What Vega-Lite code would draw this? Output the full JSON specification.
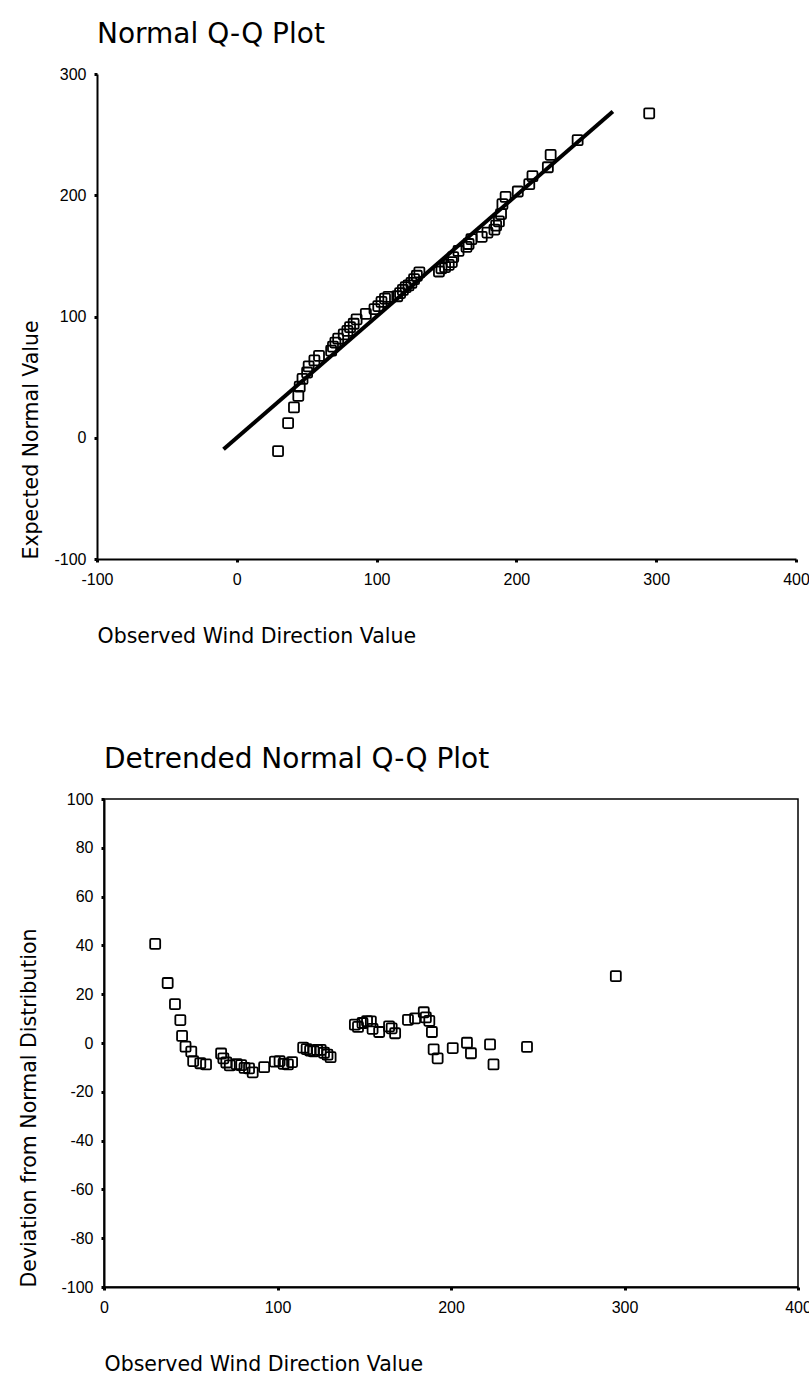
{
  "$schema": "https://vega.github.io/schema/vega-lite/v6.json",
  "background": "white",
  "padding": {"left": 19, "top": 21, "right": 0, "bottom": 0},
  "config": {
    "font": "DejaVu Sans",
    "view": {"stroke": "black", "strokeWidth": 1.5},
    "axis": {
      "grid": false,
      "domainColor": "black",
      "domainWidth": 2,
      "tickColor": "black",
      "tickSize": 3,
      "tickWidth": 3,
      "labelFont": "Liberation Sans",
      "labelFontSize": 16,
      "labelColor": "black",
      "labelFlush": false,
      "labelExpr": "replace(datum.label, '−', '-')",
      "titleFont": "DejaVu Sans",
      "titleFontWeight": "normal",
      "titleFontSize": 20.5,
      "titleColor": "black"
    },
    "title": {"anchor": "start", "frame": "group", "fontSize": 28, "fontWeight": "normal", "font": "DejaVu Sans", "color": "black"}
  },
  "datasets": {
    "qq": [
      {"obs": 29.5, "dev": 40.6, "exp": -11.1},
      {"obs": 36.7, "dev": 24.6, "exp": 12.1},
      {"obs": 40.9, "dev": 15.9, "exp": 25.0},
      {"obs": 44.0, "dev": 9.4, "exp": 34.6},
      {"obs": 45.0, "dev": 2.9, "exp": 42.1},
      {"obs": 47.0, "dev": -1.5, "exp": 48.5},
      {"obs": 50.3, "dev": -3.5, "exp": 53.8},
      {"obs": 51.4, "dev": -7.4, "exp": 58.8},
      {"obs": 55.5, "dev": -8.3, "exp": 63.8},
      {"obs": 58.8, "dev": -8.8, "exp": 67.6},
      {"obs": 67.5, "dev": -4.3, "exp": 71.8},
      {"obs": 68.8, "dev": -6.3, "exp": 75.1},
      {"obs": 70.5, "dev": -8.0, "exp": 78.5},
      {"obs": 72.5, "dev": -9.2, "exp": 81.7},
      {"obs": 76.5, "dev": -8.7, "exp": 85.2},
      {"obs": 79.1, "dev": -9.1, "exp": 88.2},
      {"obs": 81.0, "dev": -10.2, "exp": 91.2},
      {"obs": 83.6, "dev": -10.4, "exp": 94.0},
      {"obs": 85.7, "dev": -12.0, "exp": 97.7},
      {"obs": 92.3, "dev": -9.9, "exp": 102.2},
      {"obs": 98.5, "dev": -7.6, "exp": 106.1},
      {"obs": 101.2, "dev": -7.4, "exp": 108.6},
      {"obs": 103.5, "dev": -8.5, "exp": 112.0},
      {"obs": 106.0, "dev": -8.8, "exp": 114.8},
      {"obs": 108.4, "dev": -7.8, "exp": 116.2},
      {"obs": 114.8, "dev": -1.9, "exp": 116.7},
      {"obs": 116.8, "dev": -2.5, "exp": 119.3},
      {"obs": 118.8, "dev": -3.1, "exp": 121.9},
      {"obs": 120.8, "dev": -3.4, "exp": 124.2},
      {"obs": 122.8, "dev": -2.8, "exp": 125.6},
      {"obs": 124.9, "dev": -2.8, "exp": 127.7},
      {"obs": 126.8, "dev": -4.0, "exp": 130.8},
      {"obs": 128.8, "dev": -4.8, "exp": 133.6},
      {"obs": 130.6, "dev": -5.8, "exp": 136.4},
      {"obs": 144.6, "dev": 7.5, "exp": 137.1},
      {"obs": 146.4, "dev": 6.6, "exp": 139.8},
      {"obs": 149.0, "dev": 8.2, "exp": 140.8},
      {"obs": 151.6, "dev": 9.0, "exp": 142.6},
      {"obs": 153.8, "dev": 8.9, "exp": 144.9},
      {"obs": 154.8, "dev": 5.8, "exp": 149.0},
      {"obs": 158.6, "dev": 4.5, "exp": 154.1},
      {"obs": 164.3, "dev": 6.8, "exp": 157.5},
      {"obs": 165.8, "dev": 6.0, "exp": 159.8},
      {"obs": 167.8, "dev": 4.0, "exp": 163.8},
      {"obs": 175.2, "dev": 9.5, "exp": 165.7},
      {"obs": 179.3, "dev": 10.1, "exp": 169.2},
      {"obs": 184.3, "dev": 12.6, "exp": 171.7},
      {"obs": 185.5, "dev": 10.5, "exp": 175.0},
      {"obs": 187.5, "dev": 9.1, "exp": 178.4},
      {"obs": 189.0, "dev": 4.5, "exp": 184.5},
      {"obs": 190.0, "dev": -2.6, "exp": 192.6},
      {"obs": 192.3, "dev": -6.3, "exp": 198.6},
      {"obs": 201.0, "dev": -2.1, "exp": 203.1},
      {"obs": 209.2, "dev": 0.1, "exp": 209.1},
      {"obs": 211.5, "dev": -4.2, "exp": 215.7},
      {"obs": 222.5, "dev": -0.6, "exp": 223.1},
      {"obs": 224.5, "dev": -8.8, "exp": 233.3},
      {"obs": 243.8, "dev": -1.6, "exp": 245.4},
      {"obs": 295.0, "dev": 27.4, "exp": 267.6}
    ],
    "ref": [
      {"obs": -9.5, "exp": -9.5},
      {"obs": 269, "exp": 269}
    ]
  },
  "vconcat": [
    {
      "title": {"text": "Normal Q-Q Plot", "offset": 17, "dx": -7},
      "width": 692,
      "height": 485,
      "view": {"stroke": null},
      "layer": [
        {
          "mark": {"type": "rule", "color": "black", "strokeWidth": 1.5},
          "encoding": {
            "x": {"datum": -100, "type": "quantitative"},
            "x2": {"datum": 400},
            "y": {"datum": 300, "type": "quantitative"}
          }
        },
        {
          "mark": {"type": "rule", "color": "black", "strokeWidth": 1.5},
          "encoding": {
            "x": {"datum": 400, "type": "quantitative"},
            "y": {"datum": -100, "type": "quantitative"},
            "y2": {"datum": 300}
          }
        },
        {
          "data": {"name": "ref"},
          "mark": {"type": "line", "color": "black", "strokeWidth": 4},
          "encoding": {
            "x": {"field": "obs", "type": "quantitative", "scale": {"domain": [-100, 400], "range": [-7, 692], "nice": false, "zero": false},
                  "axis": {"values": [-100, 0, 100, 200, 300, 400], "title": "Observed Wind Direction Value", "titleAnchor": "start", "titlePadding": 39, "labelPadding": 9}},
            "y": {"field": "exp", "type": "quantitative", "scale": {"domain": [-100, 300], "nice": false, "zero": false},
                  "axis": {"values": [-100, 0, 100, 200, 300], "title": "Expected Normal Value", "titleAnchor": "start", "titlePadding": 12, "labelPadding": 8, "offset": 7}}
          }
        },
        {
          "data": {"name": "qq"},
          "mark": {"type": "point", "shape": "M -0.75 -1 L 0.75 -1 Q 1 -1 1 -0.75 L 1 0.75 Q 1 1 0.75 1 L -0.75 1 Q -1 1 -1 0.75 L -1 -0.75 Q -1 -1 -0.75 -1 Z", "size": 100, "filled": false, "color": "black", "strokeWidth": 1.8, "opacity": 1},
          "encoding": {
            "x": {"field": "obs", "type": "quantitative"},
            "y": {"field": "exp", "type": "quantitative"}
          }
        }
      ]
    },
    {
      "title": {"text": "Detrended Normal Q-Q Plot", "offset": 17},
      "width": 694,
      "height": 488,
      "layer": [
        {
          "mark": {"type": "rule", "color": "black", "strokeWidth": 1.5},
          "encoding": {"y": {"datum": 0, "type": "quantitative"}}
        },
        {
          "data": {"name": "qq"},
          "mark": {"type": "point", "shape": "M -0.75 -1 L 0.75 -1 Q 1 -1 1 -0.75 L 1 0.75 Q 1 1 0.75 1 L -0.75 1 Q -1 1 -1 0.75 L -1 -0.75 Q -1 -1 -0.75 -1 Z", "size": 100, "filled": false, "color": "black", "strokeWidth": 1.8, "opacity": 1},
          "encoding": {
            "x": {"field": "obs", "type": "quantitative", "scale": {"domain": [0, 400], "nice": false},
                  "axis": {"values": [0, 100, 200, 300, 400], "title": "Observed Wind Direction Value", "titleAnchor": "start", "titlePadding": 39, "labelPadding": 9}},
            "y": {"field": "dev", "type": "quantitative", "scale": {"domain": [-100, 100], "nice": false},
                  "axis": {"values": [-100, -80, -60, -40, -20, 0, 20, 40, 60, 80, 100], "title": "Deviation from Normal Distribution", "titleAnchor": "start", "titlePadding": 21, "labelPadding": 8}}
          }
        }
      ]
    }
  ],
  "spacing": 98
}
